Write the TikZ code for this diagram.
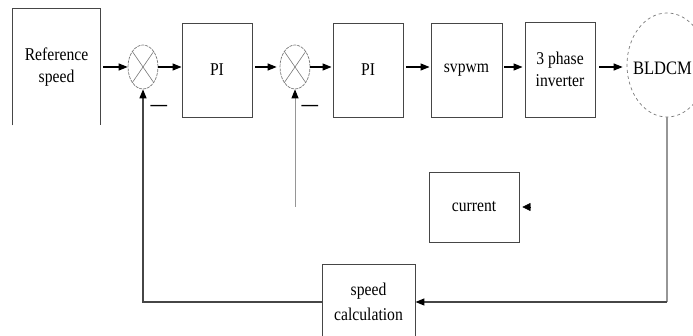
\documentclass[tikz,border=0pt]{standalone}
\usepackage{fontspec}
\setmainfont{Liberation Serif}[FakeStretch=0.87]
\usetikzlibrary{arrows.meta,shapes.geometric}
\definecolor{cline}{RGB}{70,70,70}
\definecolor{cgrey}{RGB}{150,150,150}
\tikzset{
  diagram/.style={x=1pt,y=-1pt},
  blk/.style={draw=cline,line width=0.9pt,minimum width=70pt,minimum height=94pt,inner sep=0pt,
    align=center,font=\fontsize{18}{22}\selectfont},
  sumj/.style={ellipse,draw=cgrey!80!black,dash pattern=on 3pt off 1pt,line width=0.7pt,
    minimum width=30pt,minimum height=44pt,inner sep=0pt},
  sig/.style={line width=1.1pt,-{Triangle[length=9pt,width=7pt]}},
  fb/.style={draw=cline,line width=1.3pt,-{Triangle[length=9pt,width=7pt,color=black]}},
  minus/.style={font=\fontsize{19}{19}\selectfont\bfseries,inner sep=0pt}
}

\begin{document}
\begin{tikzpicture}[diagram]
  \useasboundingbox (0,0) rectangle (693,336);
  \node[blk,draw=none,minimum width=87pt,minimum height=116pt] (ref) at (56.5,67) {Reference\\speed};
  \draw[cline,line width=0.9pt] (ref.south west) |- (ref.north east) -- (ref.south east);
  \node[sumj] (s1) at (143,67) {};
  \node[blk] (pi1) at (217,70) {PI};
  \node[sumj] (s2) at (295,67) {};
  \node[blk] (pi2) at (368,70) {PI};
  \node[blk,minimum width=71pt] (svpwm) at (466.5,70) {svpwm};
  \node[blk,minimum height=95pt] (inv) at (560,69.5) {3 phase\\inverter};
  \node[ellipse,draw=cgrey!80!black,dashed,line width=0.7pt,minimum width=80pt,minimum height=104pt,
    inner sep=0pt] (bldcm) at (667,65) {};
  \node[font=\fontsize{19}{20}\selectfont,anchor=east,inner sep=0pt] (bldcmtxt) at (692,68) {BLDCM};
  \node[blk,minimum width=90pt,minimum height=70pt] (current) at (474,207) {current};
  \node[blk,minimum width=93pt,minimum height=76pt,font=\fontsize{18}{25}\selectfont] (speed) at (368.5,302) {speed\\calculation};
  \node[minus] (m1) at (159,108) {—};
  \node[minus] (m2) at (310,108) {—};
  \foreach \s in {s1,s2}
    \draw[cgrey!80!black,line width=0.6pt] (\s.north west) -- (\s.south east) (\s.north east) -- (\s.south west);
  \draw[sig,shorten <=3pt] (ref.east |- s1) -- (s1.west);
  \draw[sig] (s1.east) -- (s1.east -| pi1.west);
  \draw[sig,shorten <=3pt,shorten >=3pt] (pi1.east |- s2) -- (s2.west);
  \draw[sig,shorten >=1pt] (s2.east) -- (s2.east -| pi2.west);
  \draw[sig,shorten <=3pt,shorten >=1pt] (pi2.east |- s2) -- (s2 -| svpwm.west);
  \draw[sig,shorten <=2pt,shorten >=2pt] (svpwm.east |- s2) -- (s2 -| inv.west);
  \draw[sig,shorten <=4pt,shorten >=4pt] (inv.east |- s2) -- (s2 -| bldcm.west);
  \coordinate (corner) at (bldcm.south |- speed.east);
  \draw[cgrey,line width=1.3pt] (bldcm.south) -- (corner);
  \draw[fb] (corner) -- (speed.east);
  \draw[fb] (speed.west) -| (s1.south);
  \coordinate (ifb) at (295,207);
  \draw[fb,draw=cgrey,line width=1pt] (ifb) -- (s2.south);
  \coordinate (cin) at ([xshift=11pt]current.east);
  \draw[-{Triangle[length=8pt,width=8pt]},shorten >=3pt] (cin) -- (current.east);
\end{tikzpicture}
\end{document}
